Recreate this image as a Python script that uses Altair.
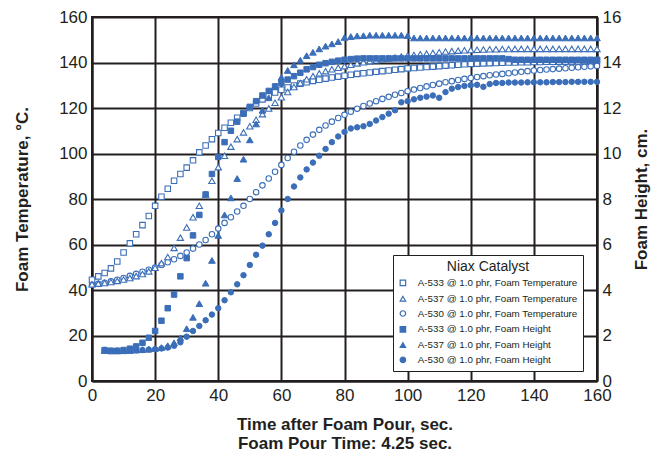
import altair as alt
import pandas as pd

BLUE = "#3b6eb8"
INK = "#231f20"
FONT = "Liberation Sans"

# time axes (seconds)
t_temp = list(range(0, 161, 2))      # 0..160
t_height = list(range(4, 161, 2))    # 4..160

# Foam temperature, deg C (t = 0..160 step 2)
a533_temp = [
    44.5, 46, 47.5, 49.5, 52.5, 56.5, 60.5, 64.5, 68.5, 72.5,
    77, 81, 84.5, 88, 91, 93.8, 97, 100.5, 103.5, 106.3,
    109, 111.3, 113.5, 115.7, 117.8, 120, 122, 123.8, 125.3, 126.8,
    128, 129, 129.9, 130.7, 131.3, 131.9, 132.4, 132.9, 133.4, 133.8,
    134.2, 134.6, 135, 135.3, 135.6, 135.9, 136.2, 136.5, 136.8, 137.1,
    137.4, 137.6, 137.8, 138, 138.2, 138.4, 138.6, 138.8, 139, 139.2,
    139.4, 139.5, 139.6, 139.7, 139.8, 139.9, 140, 140, 140.1, 140.1,
    140.2, 140.2, 140.3, 140.3, 140.4, 140.4, 140.5, 140.5, 140.6, 140.6,
    140.7,
]
a537_temp = [
    42.5, 42.8, 43.1, 43.5, 44, 44.6, 45.3, 46.1, 47, 48.2,
    49.8, 51.8, 54.5, 58.5, 63, 67.5, 72, 77, 82, 88,
    94, 99, 103, 106.3, 109.3, 112, 114.8, 117.3, 119.8, 122.3,
    124.7, 127, 129.2, 131, 132.6, 134, 135.2, 136.2, 137, 137.7,
    138.4, 139, 139.6, 140.1, 140.6, 141, 141.4, 141.8, 142.2, 142.6,
    143, 143.3, 143.6, 143.9, 144.2, 144.5, 144.8, 145, 145.2, 145.4,
    145.5, 145.6, 145.7, 145.8, 145.8, 145.9, 145.9, 146, 146, 146,
    146, 146, 146, 146, 146, 146, 146, 146, 146, 146,
    146,
]
a530_temp = [
    42.3, 42.7, 43.2, 43.8, 44.5, 45.3, 46.2, 47.1, 48, 48.9,
    49.9, 51, 52.2, 53.5, 55, 56.5, 58.2, 60, 62, 64.5,
    67, 69.5, 72, 74.5, 77, 80, 83, 86, 89, 92,
    95, 98, 100.8, 103.5, 106, 108.3, 110.4, 112.3, 114, 115.6,
    117, 118.4, 119.7, 120.9, 122, 123, 124, 124.9, 125.8, 126.6,
    127.4, 128.1, 128.8, 129.5, 130.1, 130.7, 131.3, 131.8, 132.3, 132.8,
    133.2, 133.6, 134, 134.4, 134.7, 135, 135.3, 135.6, 135.9, 136.2,
    136.5, 136.7, 136.9, 137.1, 137.3, 137.5, 137.7, 137.9, 138.1, 138.3,
    138.5,
]

# Foam height, cm (t = 4..160 step 2)
a533_height = [
    1.36, 1.33, 1.33, 1.36, 1.42, 1.52, 1.68, 1.9, 2.2, 2.65,
    3.2, 3.8, 4.6, 5.4, 6.4, 7.3, 8.2, 9.1, 9.85, 10.5,
    11.0, 11.4, 11.75, 12.05, 12.3, 12.55, 12.75, 12.95, 13.1, 13.25,
    13.4, 13.55, 13.7, 13.8, 13.9, 13.97, 14.03, 14.08, 14.12, 14.15,
    14.17, 14.18, 14.18, 14.18, 14.18, 14.18, 14.18, 14.18, 14.18, 14.18,
    14.18, 14.18, 14.18, 14.18, 14.18, 14.18, 14.18, 14.18, 14.18, 14.18,
    14.18, 14.18, 14.18, 14.18, 14.15, 14.12, 14.12, 14.12, 14.12, 14.12,
    14.12, 14.12, 14.12, 14.12, 14.12, 14.12, 14.12, 14.12, 14.12,
]
a537_height = [
    1.34, 1.32, 1.32, 1.33, 1.34, 1.36, 1.38, 1.4, 1.43, 1.47,
    1.55, 1.68, 1.9, 2.3, 2.8, 3.4, 4.3, 5.3, 6.4, 7.3,
    8.05, 8.9, 9.75, 10.6, 11.3, 11.9, 12.45, 12.95, 13.35, 13.65,
    13.9, 14.1, 14.3, 14.45, 14.6, 14.72, 14.82, 14.92, 15.1, 15.14,
    15.17, 15.18, 15.2, 15.2, 15.2, 15.2, 15.2, 15.2, 15.18, 15.08,
    15.08, 15.08, 15.08, 15.08, 15.08, 15.08, 15.08, 15.08, 15.08, 15.08,
    15.08, 15.08, 15.08, 15.08, 15.08, 15.08, 15.08, 15.08, 15.08, 15.08,
    15.08, 15.08, 15.08, 15.08, 15.08, 15.08, 15.08, 15.08, 15.08,
]
a530_height = [
    1.36, 1.33, 1.33, 1.33, 1.34, 1.35, 1.36, 1.38, 1.4, 1.43,
    1.47, 1.55, 1.7, 1.95, 2.2, 2.42, 2.67, 2.92, 3.2, 3.55,
    3.9, 4.25, 4.65, 5.1, 5.55, 5.95, 6.45, 6.95, 7.5, 8.0,
    8.55, 8.95, 9.3, 9.6, 9.9, 10.2, 10.5, 10.75, 10.95, 11.1,
    11.15, 11.2, 11.3, 11.45, 11.6, 11.75, 11.9, 12.25, 12.3, 12.38,
    12.45, 12.5, 12.55, 12.45, 12.7, 12.85, 12.92, 12.97, 13.0, 13.02,
    12.93, 13.05, 13.1, 13.1, 13.12, 13.12, 13.12, 13.13, 13.13, 13.13,
    13.13, 13.14, 13.14, 13.14, 13.15, 13.15, 13.15, 13.15, 13.15,
]

series_names = [
    "A-533 @ 1.0 phr, Foam Temperature",
    "A-537 @ 1.0 phr, Foam Temperature",
    "A-530 @ 1.0 phr, Foam Temperature",
    "A-533 @ 1.0 phr, Foam Height",
    "A-537 @ 1.0 phr, Foam Height",
    "A-530 @ 1.0 phr, Foam Height",
]
shapes = ["square", "triangle-up", "circle", "square", "triangle-up", "circle"]
fills = ["white", "white", "white", BLUE, BLUE, BLUE]
strokes = [BLUE] * 6

x_ticks = list(range(0, 161, 20))
temp_ticks = list(range(0, 161, 20))
height_ticks = list(range(0, 17, 2))

temp_rows = []
for name, vals in zip(series_names[:3], [a533_temp, a537_temp, a530_temp]):
    for t, v in zip(t_temp, vals):
        temp_rows.append({"t": t, "v": v, "series": name})
height_rows = []
for name, vals in zip(series_names[3:], [a533_height, a537_height, a530_height]):
    for t, v in zip(t_height, vals):
        height_rows.append({"t": t, "h": v, "series": name})
df_temp = pd.DataFrame(temp_rows)
df_height = pd.DataFrame(height_rows)

legend = alt.Legend(
    title="Niax Catalyst",
    orient="none",
    legendX=301,
    legendY=238,
    padding=5,
    fillColor="white",
    strokeColor=INK,
    titleFont=FONT,
    titleFontSize=14,
    titleFontWeight="normal",
    titleColor=INK,
    titleAnchor="middle",
    titleAlign="center",
    titlePadding=4,
    labelFont=FONT,
    labelFontSize=9.8,
    labelColor=INK,
    labelLimit=300,
    labelOffset=10,
    rowPadding=3.8,
    symbolSize=30,
    symbolStrokeWidth=1.2,
    symbolOpacity=1,
)

shape_enc = alt.Shape("series:N", scale=alt.Scale(domain=series_names, range=shapes), legend=legend)
fill_enc = alt.Fill("series:N", scale=alt.Scale(domain=series_names, range=fills), legend=legend)
stroke_enc = alt.Stroke("series:N", scale=alt.Scale(domain=series_names, range=strokes), legend=legend)

x_enc = alt.X(
    "t:Q",
    scale=alt.Scale(domain=[0, 160], nice=False),
    axis=alt.Axis(
        values=x_ticks,
        title=["Time after Foam Pour, sec.", "Foam Pour Time: 4.25 sec."],
        titleFont=FONT,
        titleFontSize=17,
        titleFontWeight="bold",
        titleColor=INK,
        titleLineHeight=19,
        titlePadding=13,
        labelFont=FONT,
        labelFontSize=17,
        labelColor=INK,
        labelPadding=6,
        labelFlush=False,
        labelOverlap=False,
        ticks=False,
        domainColor=INK,
        domainWidth=2,
        grid=True,
        gridColor=INK,
        gridWidth=2,
        gridOpacity=1,
    ),
)

temp_y = alt.Y(
    "v:Q",
    scale=alt.Scale(domain=[0, 160], nice=False),
    axis=alt.Axis(
        values=temp_ticks,
        title="Foam Temperature, °C.",
        titleFont=FONT,
        titleFontSize=17,
        titleFontWeight="bold",
        titleColor=INK,
        titlePadding=27,
        labelFont=FONT,
        labelFontSize=17,
        labelColor=INK,
        labelPadding=5,
        labelFlush=False,
        labelOverlap=False,
        ticks=False,
        domainColor=INK,
        domainWidth=2,
        grid=True,
        gridColor=INK,
        gridWidth=2,
        gridOpacity=1,
    ),
)

height_y = alt.Y(
    "h:Q",
    scale=alt.Scale(domain=[0, 16], nice=False),
    axis=alt.Axis(
        orient="right",
        values=height_ticks,
        title="Foam Height, cm.",
        titleAngle=270,
        titleFont=FONT,
        titleFontSize=17,
        titleFontWeight="bold",
        titleColor=INK,
        titlePadding=30,
        labelFont=FONT,
        labelFontSize=17,
        labelColor=INK,
        labelPadding=5,
        labelFlush=False,
        labelOverlap=False,
        ticks=False,
        domainColor=INK,
        domainWidth=2,
        grid=False,
    ),
)

def pts(df, y_enc, is_tri, size, sw):
    base = alt.Chart(df)
    if is_tri:
        base = base.transform_filter(alt.FieldOneOfPredicate(field="series", oneOf=[series_names[1], series_names[4]]))
    else:
        base = base.transform_filter(
            alt.FieldOneOfPredicate(field="series", oneOf=[series_names[0], series_names[2], series_names[3], series_names[5]])
        )
    return base.mark_point(filled=False, strokeWidth=sw, size=size, opacity=1).encode(
        x=x_enc, y=y_enc, shape=shape_enc, fill=fill_enc, stroke=stroke_enc
    )

temp_layer = alt.layer(
    pts(df_temp, temp_y, False, 30, 1.1),
    pts(df_temp, temp_y, True, 40, 1.1),
)
height_layer = alt.layer(
    pts(df_height, height_y, False, 30, 1),
    pts(df_height, height_y, True, 44, 1),
)

chart = (
    alt.layer(temp_layer, height_layer)
    .resolve_scale(y="independent")
    .properties(
        width=505,
        height=364,
        padding={"left": 84, "top": 9, "right": 56, "bottom": 75},
        autosize=alt.AutoSizeParams(type="none"),
        background="white",
    )
    .configure_view(stroke=INK, strokeWidth=2)
)

chart.save("out.html", embed_options={"renderer": "svg", "actions": False})
